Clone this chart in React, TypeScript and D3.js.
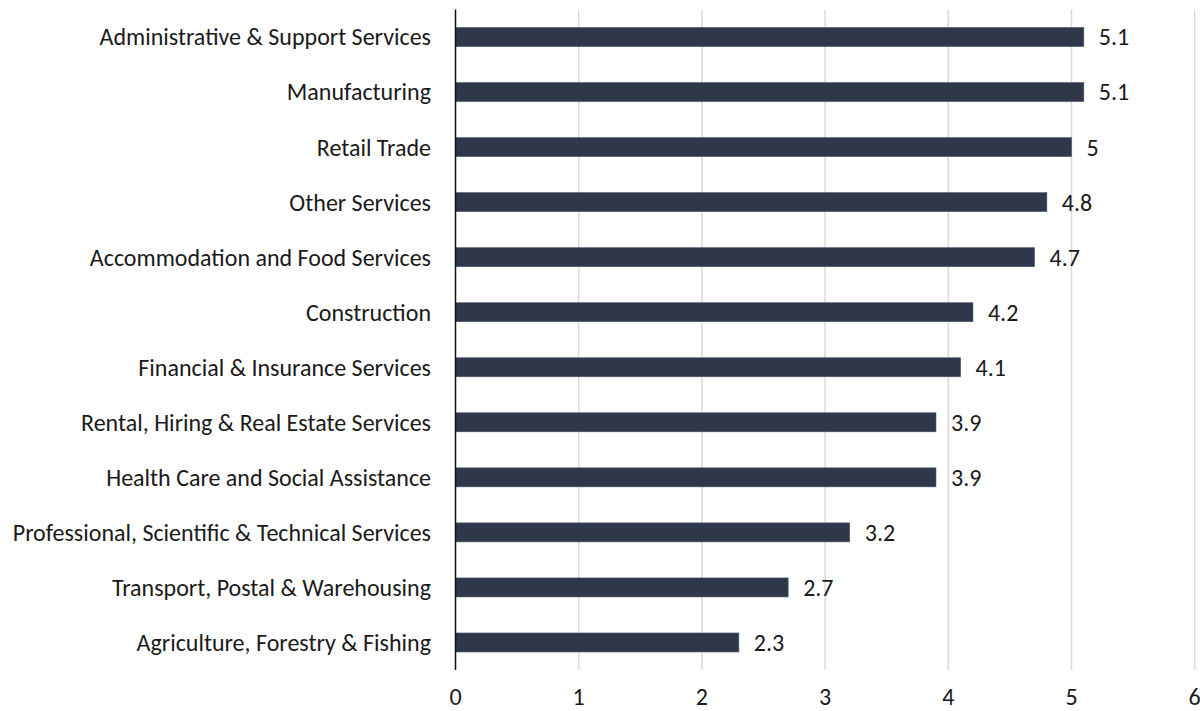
import React from "react";
import * as d3 from "d3";

const categories = [
  "Administrative & Support Services",
  "Manufacturing",
  "Retail Trade",
  "Other Services",
  "Accommodation and Food Services",
  "Construction",
  "Financial & Insurance Services",
  "Rental, Hiring & Real Estate Services",
  "Health Care and Social Assistance",
  "Professional, Scientific & Technical Services",
  "Transport, Postal & Warehousing",
  "Agriculture, Forestry & Fishing",
];
const values = [5.1, 5.1, 5.0, 4.8, 4.7, 4.2, 4.1, 3.9, 3.9, 3.2, 2.7, 2.3];
const valueLabels = ["5.1", "5.1", "5", "4.8", "4.7", "4.2", "4.1", "3.9", "3.9", "3.2", "2.7", "2.3"];
const xTicks = [0, 1, 2, 3, 4, 5, 6];

const W = 1200;
const H = 711;
const FONT = "Carlito, Calibri, 'Open Sans', sans-serif";
const FS = 24;

export default function App() {
  const x = d3.scaleLinear().domain([0, 6]).range([455.5, 1194.7]);
  const y = d3.scaleBand<string>().domain(categories).range([9.5, 670]).paddingInner(0.655).paddingOuter(0.3275);
  return (
    <svg width={W} height={H} style={{ position: "absolute", left: 0, top: 0, background: "#fff" }}>
      {xTicks.filter((t) => t > 0).map((t) => (
        <line key={"g" + t} x1={x(t)} x2={x(t)} y1={9.5} y2={670} stroke="#d9d9d9" strokeWidth={1.5} />
      ))}
      {categories.map((c, i) => (
        <g key={c}>
          <rect x={x(0)} y={y(c)!} width={x(values[i]) - x(0)} height={y.bandwidth()} fill="#2e384a" stroke="#4a5466" strokeWidth={0.6} />
          <text x={x(values[i]) + 15} y={y(c)! + y.bandwidth() / 2} dy="0.35em" fontFamily={FONT} fontSize={FS} fill="#1a1a1a">
            {valueLabels[i]}
          </text>
          <text x={431} y={y(c)! + y.bandwidth() / 2} dy="0.35em" textAnchor="end" fontFamily={FONT} fontSize={FS} fill="#1a1a1a">
            {c}
          </text>
        </g>
      ))}
      <line x1={x(0)} x2={x(0)} y1={9.5} y2={670} stroke="#111" strokeWidth={1.5} />
      {xTicks.map((t) => (
        <text key={"t" + t} x={x(t)} y={697} dy="0.35em" textAnchor="middle" fontFamily={FONT} fontSize={FS} fill="#1a1a1a">
          {t}
        </text>
      ))}
    </svg>
  );
}
